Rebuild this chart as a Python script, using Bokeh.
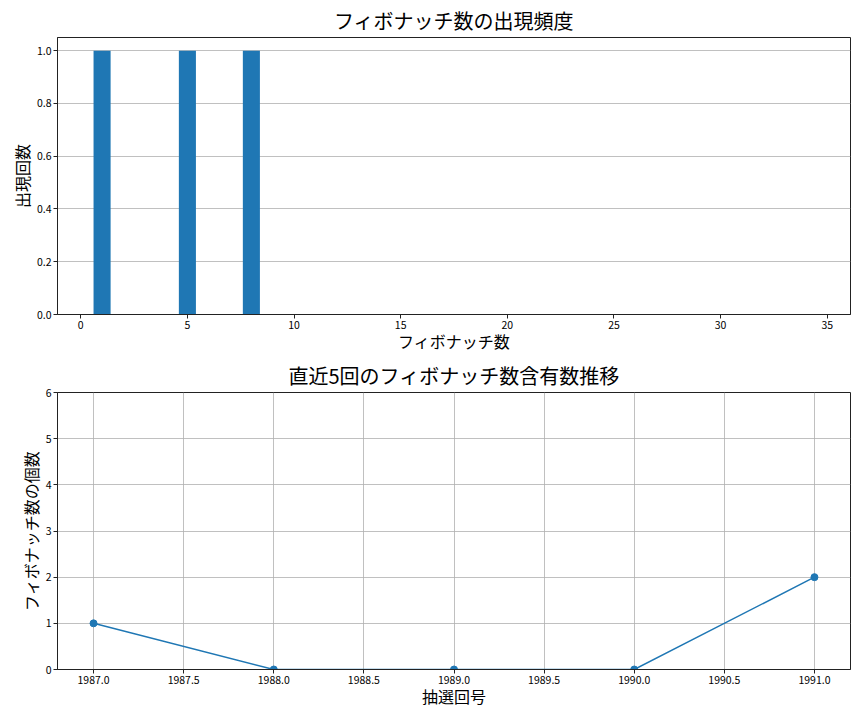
from bokeh.plotting import figure
from bokeh.layouts import column
from bokeh.models import FixedTicker, PrintfTickFormatter, Range1d
from bokeh.embed import file_html
from bokeh.resources import INLINE

# ---- data ----
fib_numbers = [1, 2, 3, 5, 8, 13, 21, 34]
fib_counts = [1, 0, 0, 1, 1, 0, 0, 0]

draw_numbers = [1987, 1988, 1989, 1990, 1991]
fib_per_draw = [1, 0, 0, 0, 2]

top_xticks = [0, 5, 10, 15, 20, 25, 30, 35]
top_yticks = [0.0, 0.2, 0.4, 0.6, 0.8, 1.0]
bot_xticks = [1987.0, 1987.5, 1988.0, 1988.5, 1989.0, 1989.5, 1990.0, 1990.5, 1991.0]
bot_yticks = [0, 1, 2, 3, 4, 5, 6]

FONT = "Noto Sans CJK JP"
BLUE = "#1f77b4"
GRID = "#b0b0b0"


def style(p, xlabel, ylabel, xgrid):
    p.title.text_font = FONT
    p.title.text_font_size = "20px"
    p.title.text_font_style = "normal"
    p.title.text_color = "black"
    p.title.align = "center"
    p.title.offset = 0
    p.title.standoff = 6
    p.outline_line_color = "#222222"
    p.outline_line_width = 1
    p.outline_line_alpha = 1
    p.background_fill_color = "white"
    p.border_fill_color = "white"
    for ax, lab in ((p.xaxis[0], xlabel), (p.yaxis[0], ylabel)):
        ax.axis_label = lab
        ax.axis_label_text_font = FONT
        ax.axis_label_text_font_size = "16px"
        ax.axis_label_text_font_style = "normal"
        ax.axis_label_text_color = "black"
        ax.major_label_text_font = FONT
        ax.major_label_text_font_size = "10.5px"
        ax.major_label_text_color = "black"
        ax.major_tick_in = 0
        ax.major_tick_out = 4
        ax.minor_tick_in = 0
        ax.minor_tick_out = 0
        ax.axis_line_color = "#222222"
        ax.major_tick_line_color = "#222222"
        ax.major_label_standoff = 2
    p.xaxis[0].axis_label_standoff = -3
    p.yaxis[0].axis_label_standoff = 0
    p.ygrid.grid_line_color = GRID
    p.ygrid.grid_line_width = 0.8
    if xgrid:
        p.xgrid.grid_line_color = GRID
        p.xgrid.grid_line_width = 0.8
    else:
        p.xgrid.grid_line_color = None


# ---- top chart ----
p1 = figure(frame_width=793, frame_height=277, output_backend="svg", toolbar_location=None,
            title="フィボナッチ数の出現頻度",
            x_range=Range1d(-1.09, 36.09), y_range=Range1d(0, 1.05),
            min_border_left=57, min_border_right=4, min_border_top=30, min_border_bottom=10)
p1.vbar(x=fib_numbers, top=fib_counts, width=0.8, bottom=0, fill_color=BLUE, line_color=None)
style(p1, "フィボナッチ数", "出現回数", xgrid=False)
p1.xaxis[0].ticker = FixedTicker(ticks=top_xticks)
p1.yaxis[0].ticker = FixedTicker(ticks=top_yticks)
p1.yaxis[0].formatter = PrintfTickFormatter(format="%.1f")

# ---- bottom chart ----
p2 = figure(frame_width=793, frame_height=277, output_backend="svg", toolbar_location=None,
            title="直近5回のフィボナッチ数含有数推移",
            x_range=Range1d(1986.8, 1991.2), y_range=Range1d(0, 6),
            min_border_left=57, min_border_right=4, min_border_top=30, min_border_bottom=10)
p2.line(draw_numbers, fib_per_draw, line_color=BLUE, line_width=1.5)
p2.scatter(draw_numbers, fib_per_draw, size=7, fill_color=BLUE, line_color=BLUE)
style(p2, "抽選回号", "フィボナッチ数の個数", xgrid=True)
p2.xaxis[0].ticker = FixedTicker(ticks=bot_xticks)
p2.xaxis[0].formatter = PrintfTickFormatter(format="%.1f")
p2.yaxis[0].ticker = FixedTicker(ticks=bot_yticks)

layout = column(p1, p2, spacing=0)
open("out.html", "w").write(file_html(layout, INLINE))
